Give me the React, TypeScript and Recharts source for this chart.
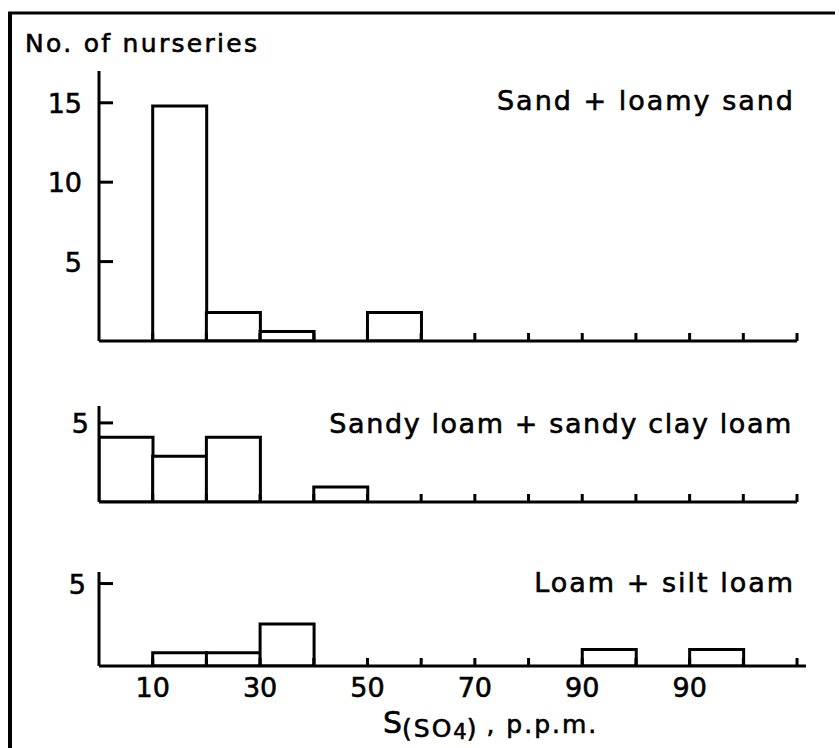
import { Bar, BarChart, XAxis, YAxis } from "recharts";

// bins of 10 p.p.m., plotted at their midpoints
const binMids = [5, 15, 25, 35, 45, 55, 65, 75, 85, 95, 105, 115, 125];
const binEdges = [10, 20, 30, 40, 50, 60, 70, 80, 90, 100, 110, 120, 130];

const sandCounts = [0, 14.8, 1.8, 0.6, 0, 1.8, 0, 0, 0, 0, 0, 0, 0];
const sandyLoamCounts = [4.1, 2.9, 4.1, 0, 0.95, 0, 0, 0, 0, 0, 0, 0, 0];
const loamCounts = [0, 0.8, 0.8, 2.55, 0, 0, 0, 0, 0, 1.0, 0, 1.0, 0];

// the original figure labels the 110 tick "90" as well
const labelTicks = [10, 30, 50, 70, 90, 110];
const labelTexts = ["10", "30", "50", "70", "90", "90"];

const toRows = (counts: number[]) => binMids.map((x, i) => ({ x, n: counts[i] }));

const font = "'DejaVu Sans', sans-serif";
const ink = "#000";

const XTick = ({ x, y, payload, showLabels }: any) => {
  const i = labelTicks.indexOf(payload.value);
  return (
    <g>
      <line x1={x} x2={x} y1={y} y2={y - 8} stroke={ink} strokeWidth={3} />
      {showLabels && i >= 0 && (
        <text x={x} y={y + 31} textAnchor="middle" fontSize={27} fontFamily={font} fill={ink} stroke={ink} strokeWidth={0.6}>
          {labelTexts[i]}
        </text>
      )}
    </g>
  );
};

const YTick = ({ x, y, payload, gap }: any) => (
  <g>
    <line x1={x} x2={x + 14} y1={y} y2={y} stroke={ink} strokeWidth={3} />
    <text x={x - gap} y={y + 10} textAnchor="end" fontSize={27} fontFamily={font} fill={ink} stroke={ink} strokeWidth={0.6}>
      {payload.value}
    </text>
  </g>
);

type PanelProps = {
  counts: number[];
  top: number;
  height: number;
  marginTop: number;
  axisHeight: number;
  yMax: number;
  yTicks: number[];
  xMax: number;
  right: number;
  gap: number;
  showLabels?: boolean;
};

const Panel = ({ counts, top, height, marginTop, axisHeight, yMax, yTicks, xMax, right, gap, showLabels }: PanelProps) => (
  <div style={{ position: "absolute", left: 0, top }}>
    <BarChart
      width={839}
      height={height}
      data={toRows(counts)}
      margin={{ top: marginTop, right, bottom: 0, left: 39 }}
      barCategoryGap={0}
      barGap={0}
    >
      <XAxis
        dataKey="x"
        type="number"
        domain={[0, xMax]}
        ticks={binEdges}
        interval={0}
        height={axisHeight}
        tickSize={0}
        tickMargin={0}
        tickLine={false}
        axisLine={{ stroke: ink, strokeWidth: 3 }}
        tick={(p: any) => <XTick {...p} showLabels={showLabels} />}
        allowDataOverflow
      />
      <YAxis
        type="number"
        width={60}
        domain={[0, yMax]}
        ticks={yTicks}
        interval={0}
        tickSize={0}
        tickMargin={0}
        tickLine={false}
        axisLine={{ stroke: ink, strokeWidth: 3 }}
        tick={(p: any) => <YTick {...p} gap={gap} />}
        allowDataOverflow
      />
      <Bar dataKey="n" fill="#fff" stroke={ink} strokeWidth={3} isAnimationActive={false} />
    </BarChart>
  </div>
);

export default function App() {
  return (
    <div style={{ position: "absolute", left: 0, top: 0, width: 839, height: 748, background: "#fff", overflow: "hidden" }}>
      <Panel counts={sandCounts} top={0} height={351} marginTop={71} axisHeight={10} yMax={17} yTicks={[5, 10, 15]} xMax={130} right={42} gap={17} />
      <Panel counts={sandyLoamCounts} top={360} height={152} marginTop={46} axisHeight={10} yMax={6.07} yTicks={[5]} xMax={130} right={42} gap={10} />
      <Panel counts={loamCounts} top={540} height={176} marginTop={32} axisHeight={50} yMax={5.7} yTicks={[5]} xMax={131.67} right={33} gap={13} showLabels />
      <svg width={839} height={748} style={{ position: "absolute", left: 0, top: 0, pointerEvents: "none" }}>
        <line x1={8} x2={835} y1={13} y2={13} stroke={ink} strokeWidth={3} />
        <line x1={10} x2={10} y1={12} y2={748} stroke={ink} strokeWidth={4} />
        <g fontFamily={font} fill={ink} stroke={ink} strokeWidth={0.6}>
          <text x={25} y={52} fontSize={25} letterSpacing={2.3}>No. of nurseries</text>
          <text x={795} y={110} fontSize={27} textAnchor="end" letterSpacing={2}>Sand + loamy sand</text>
          <text x={793} y={433} fontSize={27} textAnchor="end" letterSpacing={1.6}>Sandy loam + sandy clay loam</text>
          <text x={795} y={592} fontSize={27} textAnchor="end" letterSpacing={2}>Loam + silt loam</text>
          <text x={383} y={733} fontSize={30}>
            S
            <tspan fontSize={25} dy={4} letterSpacing={2}>(SO</tspan>
            <tspan fontSize={21} dy={2}>4</tspan>
            <tspan fontSize={25} dy={-2}>)</tspan>
            <tspan fontSize={25} dy={-4} letterSpacing={2}> , p.p.m.</tspan>
          </text>
        </g>
      </svg>
    </div>
  );
}
